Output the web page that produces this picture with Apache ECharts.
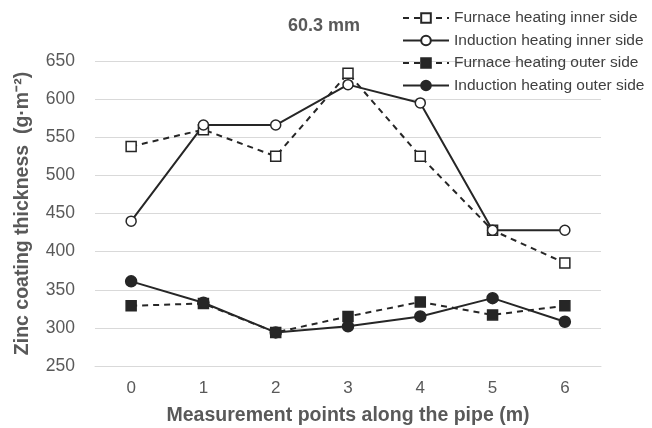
<!DOCTYPE html>
<html><head><meta charset="utf-8">
<script src="https://cdn.jsdelivr.net/npm/echarts@6/dist/echarts.min.js"></script>
<style>html,body{margin:0;padding:0;background:#fff}#c{width:652px;height:428px}</style>
</head><body><div id="c"></div>
<script>
var categories = ['0','1','2','3','4','5','6'];
var furnaceInner = [538, 560, 525, 634, 525, 428, 385];
var inductionInner = [440, 566, 566, 619, 595, 428, 428];
var furnaceOuter = [329, 332, 294, 315, 334, 317, 329];
var inductionOuter = [361, 333, 294, 302, 315, 339, 308];
var seriesNames = ['Furnace heating inner side','Induction heating inner side','Furnace heating outer side','Induction heating outer side'];

var lineColor = '#262626';
var ff = 'Liberation Sans, Arial';
function mk(name, data, dashed, symbol, fill, size) {
  return {
    name: name, type: 'line', data: data,
    symbol: symbol, symbolSize: size,
    lineStyle: {color: lineColor, width: 2, type: dashed ? [6, 5] : 'solid'},
    itemStyle: {color: fill, borderColor: lineColor, borderWidth: 1.5},
    emphasis: {disabled: true}
  };
}
var chart = echarts.init(document.getElementById('c'));
chart.setOption({
  animation: false,
  title: {text: '60.3 mm', left: 319, top: 12, textAlign: 'center',
    textStyle: {fontFamily: ff, fontSize: 18, fontWeight: 'bold', color: '#595959'}},
  legend: {
    orient: 'vertical', left: 397, top: 5, itemWidth: 46, itemHeight: 12, itemGap: 6.5,
    data: seriesNames,
    textStyle: {fontFamily: ff, fontSize: 15.5, color: '#404040'}
  },
  grid: {left: 95, right: 51, top: 61, bottom: 62, outerBoundsMode: 'none', containLabel: false},
  xAxis: {
    type: 'category', data: categories, boundaryGap: true,
    name: 'Measurement points along the pipe (m)', nameLocation: 'middle', nameGap: 40,
    nameTextStyle: {fontFamily: ff, fontSize: 19.5, fontWeight: 'bold', color: '#595959'},
    axisLine: {show: true, lineStyle: {color: '#d9d9d9', width: 1}},
    axisTick: {show: false},
    axisLabel: {fontFamily: ff, fontSize: 17, color: '#595959', margin: 14}
  },
  yAxis: {
    type: 'value', min: 250, max: 650, interval: 50,
    name: 'Zinc coating thickness  (g·m⁻²)', nameLocation: 'middle', nameGap: 62,
    nameTextStyle: {fontFamily: ff, fontSize: 19.5, fontWeight: 'bold', color: '#595959'},
    axisLine: {show: false}, axisTick: {show: false},
    splitLine: {lineStyle: {color: '#d9d9d9', width: 1}},
    axisLabel: {fontFamily: ff, fontSize: 17.5, color: '#595959', margin: 20}
  },
  series: [
    mk(seriesNames[0], furnaceInner, true, 'rect', '#ffffff', 10),
    mk(seriesNames[1], inductionInner, false, 'circle', '#ffffff', 10),
    mk(seriesNames[2], furnaceOuter, true, 'rect', lineColor, 10),
    mk(seriesNames[3], inductionOuter, false, 'circle', lineColor, 11)
  ]
});
</script></body></html>
